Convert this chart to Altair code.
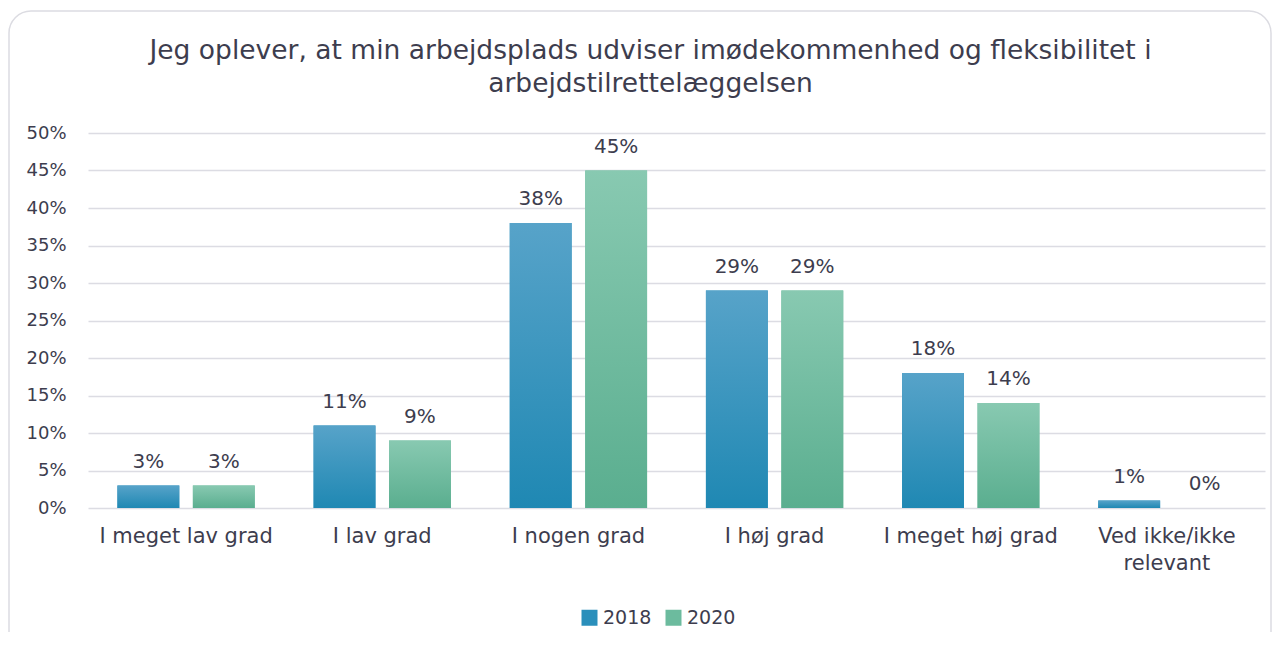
import altair as alt
import pandas as pd

categories = ["I meget lav grad", "I lav grad", "I nogen grad", "I høj grad", "I meget høj grad", "Ved ikke/ikke relevant"]
years = ["2018", "2020"]
values_2018 = [3, 11, 38, 29, 18, 1]
values_2020 = [3, 9, 45, 29, 14, 0]
y_ticks = [0, 5, 10, 15, 20, 25, 30, 35, 40, 45, 50]

rows = []
for c, a, b in zip(categories, values_2018, values_2020):
    rows.append({"kategori": c, "år": "2018", "v": a / 100, "lbl": f"{a}%"})
    rows.append({"kategori": c, "år": "2020", "v": b / 100, "lbl": f"{b}%"})
df = pd.DataFrame(rows)

FONT = "DejaVu Sans"
TXT = "#3d3d4e"

x_enc = alt.X("kategori:N", sort=categories,
              scale=alt.Scale(paddingInner=0.3, paddingOuter=0.15),
              axis=alt.Axis(title=None, labelAngle=0, domain=False, ticks=False,
                            labelFontSize=21, labelColor=TXT, labelFont=FONT,
                            labelPadding=17, labelLineHeight=27,
                            labelExpr="datum.label == 'Ved ikke/ikke relevant' ? ['Ved ikke/ikke', 'relevant'] : datum.label"))
y_enc = alt.Y("v:Q", scale=alt.Scale(domain=[0, 0.5], nice=False),
              axis=alt.Axis(title=None, format=".0%", values=[t / 100 for t in y_ticks],
                            tickCount=len(y_ticks) + 2, labelOverlap=False,
                            domain=False, ticks=False, labelFontSize=18, labelColor=TXT,
                            labelFont=FONT, labelPadding=22,
                            gridColor="#dcdce3", gridWidth=1.5))
xoff = alt.XOffset("år:N", scale=alt.Scale(domain=years, paddingInner=0.18))

base = alt.Chart(df)

# solid bars supply the legend
legend_bars = base.mark_bar().encode(
    x=x_enc,
    xOffset=xoff,
    y=y_enc,
    color=alt.Color("år:N", scale=alt.Scale(domain=years, range=["#2a8fbb", "#6cbb9e"]),
                    legend=alt.Legend(title=None, orient="none", legendX=492, legendY=475,
                                      direction="horizontal", symbolType="square",
                                      symbolSize=256, symbolStrokeWidth=0,
                                      labelFontSize=19, labelColor=TXT, labelFont=FONT,
                                      columnPadding=12, labelOffset=4)),
)

grad18 = alt.Gradient(gradient="linear", x1=0, y1=0, x2=0, y2=1,
                      stops=[alt.GradientStop(color="#57a3c9", offset=0),
                             alt.GradientStop(color="#1f88b3", offset=1)])
grad20 = alt.Gradient(gradient="linear", x1=0, y1=0, x2=0, y2=1,
                      stops=[alt.GradientStop(color="#88c9b1", offset=0),
                             alt.GradientStop(color="#5aae8f", offset=1)])

b18 = base.transform_filter(alt.datum["år"] == "2018").mark_bar(color=grad18).encode(
    x=x_enc, xOffset=xoff, y=y_enc)
b20 = base.transform_filter(alt.datum["år"] == "2020").mark_bar(color=grad20).encode(
    x=x_enc, xOffset=xoff, y=y_enc)

labels = base.mark_text(baseline="bottom", dy=-14, fontSize=20, color=TXT, font=FONT).encode(
    x=x_enc, xOffset=xoff, y=y_enc, text="lbl:N")

frame = alt.Chart(pd.DataFrame({"a": [0]})).mark_rect(
    fill="transparent", stroke="#dcdce2", strokeWidth=1.5, cornerRadius=22).encode(
    x=alt.value(-79), x2=alt.value(1183), y=alt.value(-122), y2=alt.value(540))

chart = alt.layer(frame, legend_bars, b18, b20, labels).properties(
    width=1177, height=375,
    title=alt.Title(["Jeg oplever, at min arbejdsplads udviser imødekommenhed og fleksibilitet i",
                     "arbejdstilrettelæggelsen"],
                    fontSize=26.5, font=FONT, fontWeight="normal", color=TXT,
                    anchor="middle", dx=-26, lineHeight=33, offset=-87),
    padding={"left": 80, "top": 125, "right": 8, "bottom": 124},
    autosize=alt.AutoSizeParams(type="none"),
).configure(background="white").configure_view(strokeWidth=0, stroke=None)

chart.save("out.html", embed_options={"renderer": "svg", "actions": False})
